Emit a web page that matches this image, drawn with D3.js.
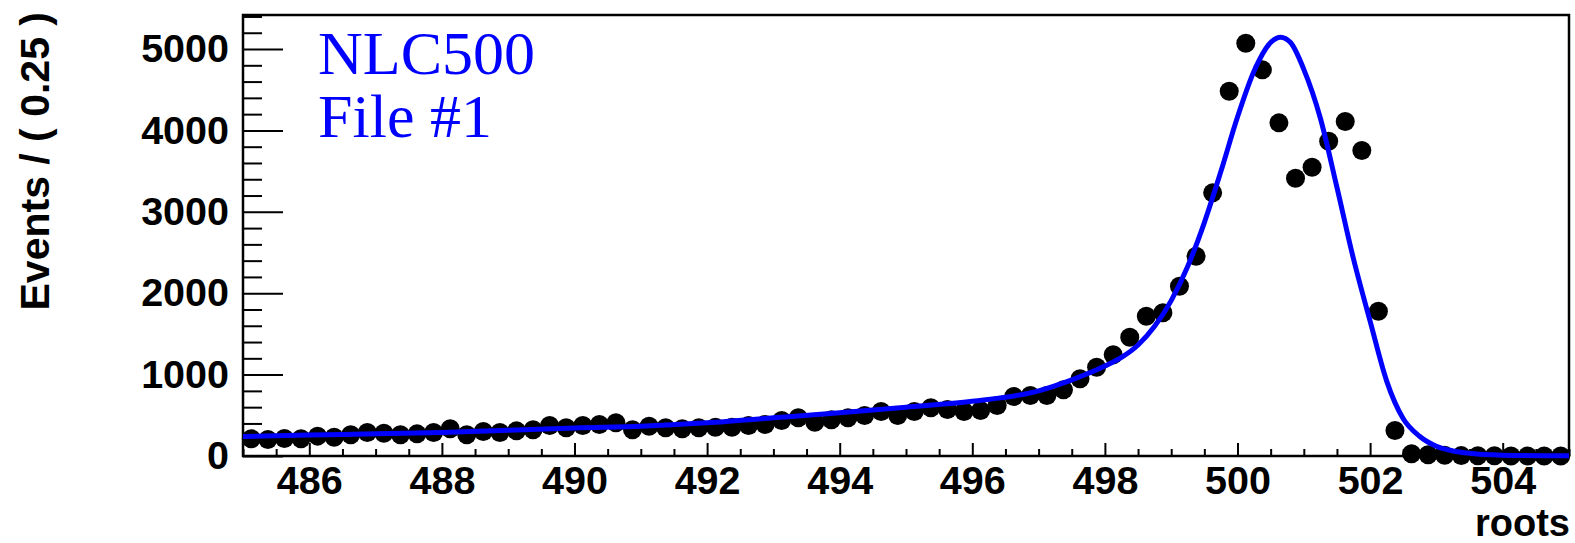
<!DOCTYPE html>
<html>
  <head>
    <meta charset="utf-8">
    <title>roots fit</title>
    <script src="https://cdn.jsdelivr.net/npm/d3@7"></script>
    <style>
      body { margin: 0; background: #fff; }
      svg text { font-family: "Liberation Sans", Arial, sans-serif; font-weight: bold; }
    </style>
  </head>
  <body>
    <div id="chart"></div>
    <script>
      // histogram: 80 bins of 0.25 from 485 to 505
      var binStart = 485, binWidth = 0.25;
      var counts = [
        211, 203, 215, 211, 244, 231, 260, 289, 280, 260,
        272, 289, 334, 260, 301, 289, 309, 322, 375, 346,
        375, 387, 408, 322, 365, 346, 334, 346, 354, 354,
        375, 387, 436, 469, 415, 445, 469, 498, 547, 498,
        547, 592, 571, 547, 559, 620, 731, 743, 743, 813,
        948, 1091, 1243, 1460, 1718, 1759, 2086, 2455, 3233, 4482,
        5071, 4744, 4093, 3413, 3548, 3867, 4109, 3753, 1779, 313,
        27, 15, 8, 5, 3, 2, 1, 1, 0, 0
      ];
      // fitted curve
      var fitX = [485, 486, 487, 488, 489, 490, 491, 492, 493, 494, 495, 496, 497, 497.5,
        498, 498.25, 498.5, 498.75, 499, 499.25, 499.5, 499.75, 500, 500.25, 500.5,
        500.65, 500.8, 501, 501.25, 501.5, 501.75, 502, 502.25, 502.5, 502.75, 503,
        503.25, 503.5, 504, 505];
      var fitY = [240, 258, 272, 290, 315, 345, 365, 408, 469, 531, 600, 673, 800, 935,
        1105, 1211, 1364, 1593, 1909, 2331, 2868, 3497, 4164, 4730, 5080,
        5145, 5080, 4750, 4150, 3300, 2420, 1656, 920, 457, 240, 120,
        62, 33, 10, 2];
      var xMajor = [486, 488, 490, 492, 494, 496, 498, 500, 502, 504];
      var yMajor = [0, 1000, 2000, 3000, 4000, 5000];
      var legendLines = ["NLC500", "File #1"];

      var width = 1575, height = 543;
      var margin = { top: 15, right: 6, bottom: 87, left: 243 };

      var svg = d3.select("#chart").append("svg")
        .attr("width", width)
        .attr("height", height);

      var x = d3.scaleLinear().domain([485, 505]).range([margin.left, width - margin.right]);
      var y = d3.scaleLinear().domain([0, 5418]).range([height - margin.bottom, margin.top]);

      var bins = counts.map(function(c, i) {
        return { x: binStart + binWidth * (i + 0.5), y: c };
      });

      // axes: ticks point into the frame
      var xMinor = d3.range(485, 505.01, 0.5).filter(function(v) { return v % 2 !== 0; });
      var yMinor = d3.range(0, 5401, 200).filter(function(v) { return v % 1000 !== 0; });

      svg.append("g")
        .attr("transform", "translate(0," + y(0) + ")")
        .call(d3.axisBottom(x).tickValues(xMinor).tickSize(-7).tickFormat(""))
        .call(function(g) { g.select(".domain").remove(); });
      svg.append("g")
        .attr("class", "xaxis")
        .attr("transform", "translate(0," + y(0) + ")")
        .call(d3.axisBottom(x).tickValues(xMajor).tickSize(-13).tickPadding(10).tickFormat(d3.format("d")))
        .call(function(g) { g.select(".domain").remove(); });

      svg.append("g")
        .attr("transform", "translate(" + x(485) + ",0)")
        .call(d3.axisLeft(y).tickValues(yMinor).tickSize(-19).tickFormat(""))
        .call(function(g) { g.select(".domain").remove(); });
      svg.append("g")
        .attr("class", "yaxis")
        .attr("transform", "translate(" + x(485) + ",0)")
        .call(d3.axisLeft(y).tickValues(yMajor).tickSize(-40).tickPadding(14).tickFormat(d3.format("d")))
        .call(function(g) { g.select(".domain").remove(); });

      svg.selectAll(".tick line").attr("stroke", "#000").attr("stroke-width", 2);
      svg.selectAll(".tick text")
        .attr("fill", "#000")
        .style("font-size", "39.5px")
        .style("font-family", "'Liberation Sans', Arial, sans-serif")
        .style("font-weight", "bold");

      // frame
      svg.append("rect")
        .attr("x", x(485))
        .attr("y", y(5418))
        .attr("width", x(505) - x(485))
        .attr("height", y(0) - y(5418))
        .attr("fill", "none")
        .attr("stroke", "#000")
        .attr("stroke-width", 2.5);

      // data points
      svg.append("g").selectAll("circle")
        .data(bins)
        .join("circle")
        .attr("cx", function(d) { return x(d.x); })
        .attr("cy", function(d) { return y(d.y); })
        .attr("r", 9.5)
        .attr("fill", "#000");

      // fit curve
      var line = d3.line()
        .x(function(d, i) { return x(fitX[i]); })
        .y(function(d) { return y(d); })
        .curve(d3.curveMonotoneX);
      svg.append("path")
        .attr("d", line(fitY))
        .attr("fill", "none")
        .attr("stroke", "#0000ff")
        .attr("stroke-width", 5)
        .attr("stroke-linejoin", "round");

      // titles
      svg.append("text")
        .attr("transform", "translate(49,12) rotate(-90)")
        .attr("text-anchor", "end")
        .style("font-size", "41px")
        .text("Events / ( 0.25 )");
      svg.append("text")
        .attr("x", 1570)
        .attr("y", 535.5)
        .attr("text-anchor", "end")
        .style("font-size", "38px")
        .text("roots");

      // legend
      svg.append("g").selectAll("text")
        .data(legendLines)
        .join("text")
        .attr("x", 318)
        .attr("y", function(d, i) { return 74 + i * 63; })
        .attr("fill", "#0000ff")
        .style("font-family", "'Liberation Serif', 'Times New Roman', serif")
        .style("font-weight", "normal")
        .style("font-size", "62px")
        .text(function(d) { return d; });
    </script>
  </body>
</html>
